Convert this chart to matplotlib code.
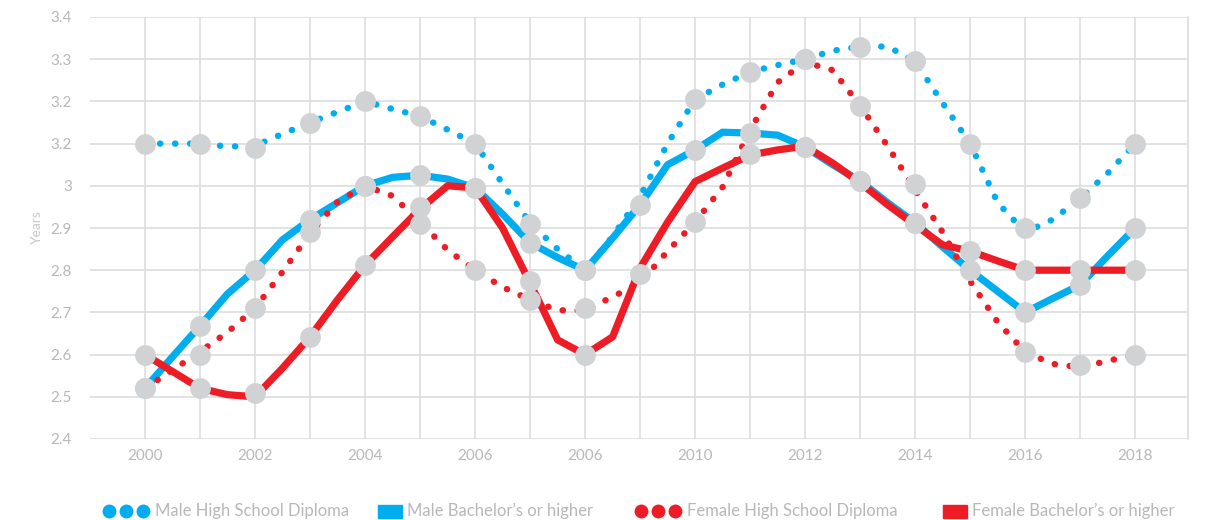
import numpy as np
import matplotlib
matplotlib.use("Agg")
import matplotlib.pyplot as plt
from matplotlib.lines import Line2D
from matplotlib.patches import Rectangle

plt.rcParams['font.family'] = ['Lato', 'DejaVu Sans']

# eje x: un punto por año, la línea se traza cada medio año
anios = list(range(2000, 2019))
etiquetas_x = ['2000', '2002', '2004', '2006', '2006', '2010', '2012', '2014', '2016', '2018']
etiquetas_y = ['2.4', '2.5', '2.6', '2.7', '2.8', '2.9', '3', '3.2', '3.2', '3.3', '3.4']

# trazos (cada medio año)
hombres_bachillerato = [3.10, 3.10, 3.10, 3.093, 3.095, 3.123, 3.15, 3.175, 3.20, 3.182,
                        3.165, 3.133, 3.10, 3.005, 2.912, 2.85, 2.80, 2.88, 2.975, 3.10,
                        3.205, 3.24, 3.27, 3.286, 3.30, 3.32, 3.33, 3.33, 3.295, 3.196,
                        3.10, 2.96, 2.89, 2.92, 2.97, 3.03, 3.10]
hombres_licenciatura = [2.52, 2.595, 2.668, 2.744, 2.80, 2.872, 2.92, 2.96, 3.00, 3.02,
                        3.025, 3.016, 2.995, 2.933, 2.865, 2.83, 2.80, 2.876, 2.955, 3.05,
                        3.085, 3.127, 3.125, 3.12, 3.092, 3.05, 3.011, 2.96, 2.912, 2.855,
                        2.80, 2.75, 2.70, 2.733, 2.765, 2.834, 2.90]
mujeres_bachillerato = [2.52, 2.563, 2.607, 2.653, 2.71, 2.796, 2.888, 2.962, 3.00, 2.976,
                        2.914, 2.848, 2.80, 2.76, 2.73, 2.705, 2.705, 2.737, 2.77, 2.845,
                        2.914, 2.997, 3.132, 3.245, 3.293, 3.274, 3.19, 3.094, 2.99, 2.89,
                        2.774, 2.677, 2.606, 2.578, 2.57, 2.585, 2.60]
mujeres_licenciatura = [2.60, 2.56, 2.52, 2.505, 2.50, 2.568, 2.642, 2.73, 2.812, 2.879,
                        2.945, 3.00, 2.995, 2.90, 2.77, 2.635, 2.60, 2.642, 2.805, 2.914,
                        3.01, 3.042, 3.073, 3.085, 3.094, 3.054, 3.007, 2.955, 2.907, 2.86,
                        2.845, 2.822, 2.80, 2.80, 2.80, 2.80, 2.80]

# puntos grises (uno por año, nan donde no se ve)
nan = np.nan
puntos_hb = [3.10, 3.10, 3.09, 3.15, 3.20, 3.165, 3.10, 2.91, 2.80, nan,
             3.205, 3.27, 3.30, 3.33, 3.295, 3.10, 2.90, 2.97, 3.10]
puntos_hl = [2.52, 2.668, 2.80, 2.92, 3.00, 3.025, 2.995, 2.865, 2.80, 2.955,
             3.085, 3.125, 3.092, 3.011, 2.912, 2.80, 2.70, 2.765, 2.90]
puntos_mb = [2.52, 2.60, 2.71, 2.89, 3.00, 2.91, 2.80, 2.73, 2.71, nan,
             2.915, nan, 3.30, 3.19, 3.005, nan, 2.605, 2.575, 2.60]
puntos_ml = [2.60, 2.52, 2.51, 2.642, 2.812, 2.95, 2.995, 2.775, 2.60, 2.79,
             nan, 3.075, 3.092, 3.011, 2.912, 2.845, 2.80, 2.80, 2.80]

AZUL = "#00aeef"
ROJO = "#ee1c25"
GRIS = "#d1d2d4"
TEXTO = "#b8b8ba"
REJILLA = "#dddddd"

W, H = 1206, 520
fig = plt.figure(figsize=(W / 100, H / 100), dpi=100)
ax = fig.add_axes([90 / W, (H - 439) / H, (1188 - 90) / W, (439 - 17) / H])

x_anual = np.arange(len(anios))
x_medio = np.arange(0, len(anios) - 0.5, 0.5)

# puntos redondos: trazo casi nulo con extremo redondo
punteado = (0, (0.05, 2.3))
ax.plot(x_medio, hombres_bachillerato, color=AZUL, lw=4.6, linestyle=punteado,
        dash_capstyle="round", zorder=2)
ax.plot(x_medio, hombres_licenciatura, color=AZUL, lw=5.2, zorder=3)
ax.plot(x_medio, mujeres_bachillerato, color=ROJO, lw=4.6, linestyle=punteado,
        dash_capstyle="round", zorder=4)
ax.plot(x_medio, mujeres_licenciatura, color=ROJO, lw=5.2, zorder=5)

for serie in [puntos_hb, puntos_hl, puntos_mb, puntos_ml]:
    ax.plot(x_anual, serie, linestyle="none", marker="o", ms=15,
            markerfacecolor=GRIS, markeredgewidth=0, zorder=6)

ax.set_xlim(-1, 18.96)
ax.set_ylim(2.4, 3.4)
ax.set_xticks(x_anual)
ax.set_xticklabels([etiquetas_x[i // 2] if i % 2 == 0 else "" for i in x_anual])
ax.set_yticks(np.linspace(2.4, 3.4, 11))
ax.set_yticklabels(etiquetas_y)
ax.tick_params(length=0, labelsize=11, labelcolor=TEXTO)
ax.tick_params(axis="y", pad=13)
ax.tick_params(axis="x", pad=7)
ax.grid(True, color=REJILLA, lw=1.2, zorder=0)
ax.set_axisbelow(True)
for lado in ["left", "top", "bottom"]:
    ax.spines[lado].set_visible(False)
ax.spines["right"].set_color(REJILLA)
ax.spines["right"].set_linewidth(1.2)

fig.text(37 / W, (H - 228) / H, "Years", rotation=90, ha="center", va="center",
         fontsize=10, color="#c8c8ca")

# leyenda manual abajo
y_ley = (H - 511) / H
def leyenda_puntos(x0, color, texto):
    for k in range(3):
        fig.add_artist(Line2D([(x0 + 17 * k) / W], [y_ley], marker="o", ms=10,
                              color=color, markeredgewidth=0, transform=fig.transFigure))
    fig.text((x0 + 46) / W, y_ley, texto, ha="left", va="center",
             fontsize=12, color=TEXTO)

def leyenda_cuadro(x0, color, texto):
    fig.add_artist(Rectangle((x0 / W, y_ley - 6.5 / H), 24 / W, 13 / H,
                             color=color, transform=fig.transFigure))
    fig.text((x0 + 29) / W, y_ley, texto, ha="left", va="center",
             fontsize=12, color=TEXTO)

leyenda_puntos(109, AZUL, "Male High School Diploma")
leyenda_cuadro(378, AZUL, "Male Bachelor\u2019s or higher")
leyenda_puntos(641, ROJO, "Female High School Diploma")
leyenda_cuadro(943, ROJO, "Female Bachelor\u2019s or higher")

fig.savefig("out.png", dpi=100)
